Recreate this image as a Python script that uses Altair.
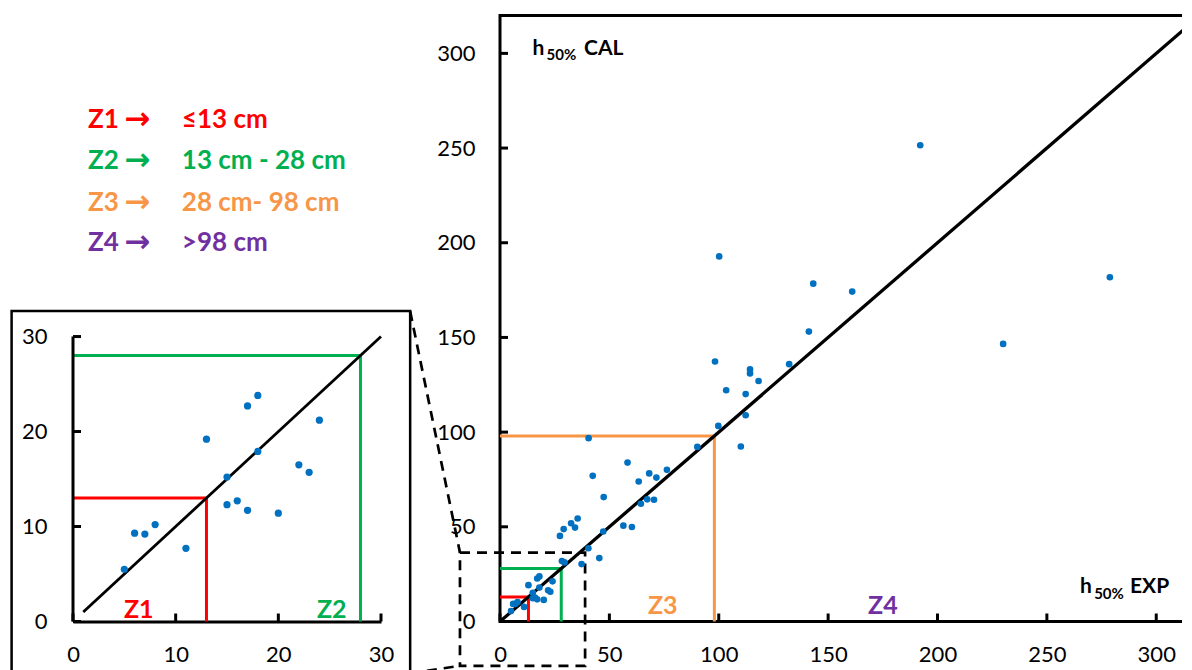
import altair as alt
import pandas as pd

# ---------------- data ----------------
h50_exp = [5, 6, 7, 8, 11, 13, 15, 15, 16, 17, 17, 18, 18, 20, 22, 23, 24,
           27.4, 28.3, 29.5, 29.1, 32.5, 34.3, 35.5, 37.3, 40.4, 45.4, 47.2,
           40.5, 42.4, 47.4, 56.4, 60.3, 58.3, 63.4, 64.4, 67.3, 70.4, 68.2, 71.5, 76.3,
           90.2, 99.8, 110.1, 112.3, 112.3, 103.4, 118.2, 114.3, 114.3, 132.2, 98.3,
           141.2, 161.0, 143.2, 100.2,
           192.1, 230.0, 278.8, 313.8]
h50_cal = [5.5, 9.3, 9.2, 10.2, 7.7, 19.2, 15.2, 12.3, 12.7, 11.7, 22.7, 23.8, 17.9, 11.4, 16.5, 15.7, 21.2,
           45.2, 31.9, 31.2, 48.8, 51.9, 49.6, 54.4, 30.3, 38.7, 33.5, 47.5,
           96.8, 76.9, 65.7, 50.6, 49.9, 83.9, 73.9, 62.2, 64.5, 64.3, 78.2, 76.0, 80.1,
           92.2, 103.3, 92.4, 120.1, 108.9, 122.1, 127.0, 133.1, 131.0, 135.9, 137.3,
           153.1, 174.2, 178.4, 192.8,
           251.5, 146.6, 181.8, 206.0]

zone_names = ["Z1", "Z2", "Z3", "Z4"]
zone_limits = [13, 28, 98]
zone_ranges = ["≤13 cm", "13 cm - 28 cm", "28 cm- 98 cm", ">98 cm"]

main_domain = [0, 320]
main_ticks = [0, 50, 100, 150, 200, 250, 300]
inset_x_domain = [0, 30]
inset_y_domain = [0, 63.8]      # plot runs up to the top of the main chart; the inset axes stop at 30
inset_ticks = [0, 10, 20, 30]
inset_diag = [1, 30]

# zoom box in main-chart units, connectors towards the inset frame
zoom_box_x = [-18.3, 38.9]
zoom_box_y = [-23.4, 36.4]
conn_x = [-41.1, -41.1]
conn_y = [163.9, -27.4]
conn_x2 = [-18.3, -18.3]
conn_y2 = [36.4, -23.4]
# frame around the inset, in inset units
inset_frame_x = [-5.98, 32.84]
inset_frame_y = [-5.6, 32.7]

# axis-name annotations (main chart units)
name_big_text = ["h", "CAL", "h", "EXP"]
name_big_x = [14.9, 38.4, 265.1, 288.0]
name_big_y = [299.4, 299.4, 14.8, 14.8]
name_sub_text = ["50%", "50%"]
name_sub_x = [21.3, 271.6]
name_sub_y = [296.6, 12.0]

main_zone_lbl = ["Z3", "Z4"]
main_zone_lbl_x = [74.4, 175.0]
main_zone_lbl_y = [8.0, 8.0]
inset_zone_lbl = ["Z1", "Z2"]
inset_zone_lbl_x = [6.4, 25.2]
inset_zone_lbl_y = [1.23, 1.23]

# zone legend text block (inset units)
legend_row_y = [52.0, 47.6, 43.2, 39.0]
legend_col_x = [1.46, 5.0, 10.6]   # zone name, arrow, range text

# ---------------- styles ----------------
FONT = "Lato"
LINE_COLORS = ["#FF0000", "#00B050", "#F79646", "#7030A0"]
LEGEND_COLORS = ["#FF0000", "#00B050", "#FF9A1F", "#7030A0"]
BLUE = "#0070C0"

pts = pd.DataFrame({"exp": h50_exp, "cal": h50_cal})

zl_rows = []
for name, b in zip(zone_names, zone_limits):
    zl_rows += [{"x": 0, "y": b, "zone": name, "o": 0},
                {"x": b, "y": b, "zone": name, "o": 1},
                {"x": b, "y": 0, "zone": name, "o": 2}]
zl_df = pd.DataFrame(zl_rows)

zone_color = alt.Color("zone:N", scale=alt.Scale(domain=zone_names, range=LINE_COLORS), legend=None)


def make_axis(values, pad, domain):
    kw = dict(values=values, grid=False, ticks=False, tickSize=0, labelFont=FONT,
              labelFontSize=22, labelColor="black", labelPadding=pad, domain=domain,
              labelFlush=False)
    if domain:
        kw.update(domainColor="black", domainWidth=3)
    return alt.Axis(**kw)


# ---------------- main chart ----------------
W, H = 700, 606
xs = alt.Scale(domain=main_domain, nice=False, zero=False)
ys = alt.Scale(domain=main_domain, nice=False, zero=False)
xax = make_axis(main_ticks, 23, False)
yax = make_axis(main_ticks, 25, False)


def MX(f):
    return alt.X(f, type="quantitative", scale=xs, axis=xax, title="")


def MY(f):
    return alt.Y(f, type="quantitative", scale=ys, axis=yax, title="")


m_zone = alt.Chart(zl_df).mark_line(strokeWidth=3).encode(
    x=MX("x"), y=MY("y"), color=zone_color, order=alt.Order("o:Q"))
m_diag = alt.Chart(pd.DataFrame({"x": main_domain, "y": main_domain})).mark_line(
    color="black", strokeWidth=3.3).encode(x=MX("x"), y=MY("y"))
m_pts = alt.Chart(pts).mark_circle(size=44, color=BLUE, opacity=1).encode(x=MX("exp"), y=MY("cal"))
m_box = alt.Chart(pd.DataFrame({"x": [zoom_box_x[0]], "x2": [zoom_box_x[1]],
                                "y": [zoom_box_y[0]], "y2": [zoom_box_y[1]]})).mark_rect(
    fillOpacity=0, stroke="black", strokeWidth=2.7, strokeDash=[10, 7]).encode(
    x=MX("x"), x2="x2", y=MY("y"), y2="y2")
m_conn = alt.Chart(pd.DataFrame({"x": conn_x, "y": conn_y, "x2": conn_x2, "y2": conn_y2})).mark_rule(
    color="black", strokeWidth=2.7, strokeDash=[10, 7]).encode(x=MX("x"), y=MY("y"), x2="x2", y2="y2")
m_ytk = alt.Chart(pd.DataFrame({"t": main_ticks})).mark_rule(color="black", strokeWidth=3).encode(
    y=MY("t"), x=alt.value(0), x2=alt.value(8))
m_xtk = alt.Chart(pd.DataFrame({"t": main_ticks})).mark_rule(color="black", strokeWidth=3).encode(
    x=MX("t"), y=alt.value(H), y2=alt.value(H - 8))
m_big = alt.Chart(pd.DataFrame({"t": name_big_text, "x": name_big_x, "y": name_big_y})).mark_text(
    font=FONT, fontWeight="bold", fontSize=21, align="left", baseline="alphabetic", color="black").encode(
    x=MX("x"), y=MY("y"), text="t:N")
m_sub = alt.Chart(pd.DataFrame({"t": name_sub_text, "x": name_sub_x, "y": name_sub_y})).mark_text(
    font=FONT, fontWeight="bold", fontSize=15, align="left", baseline="alphabetic", color="black").encode(
    x=MX("x"), y=MY("y"), text="t:N")
m_zlbl = alt.Chart(pd.DataFrame({"zone": main_zone_lbl, "x": main_zone_lbl_x, "y": main_zone_lbl_y})).mark_text(
    font=FONT, fontWeight="bold", fontSize=25, align="center", baseline="middle").encode(
    x=MX("x"), y=MY("y"), text="zone:N", color=zone_color)

main = alt.layer(m_zone, m_diag, m_box, m_conn, m_ytk, m_xtk, m_pts, m_big, m_sub, m_zlbl).properties(
    width=W, height=H, view=alt.ViewBackground(stroke="black", strokeWidth=3))

# ---------------- inset (with the zone legend above it) ----------------
IW = 308
ixs = alt.Scale(domain=inset_x_domain, nice=False, zero=False)
iys = alt.Scale(domain=inset_y_domain, nice=False, zero=False)
ixax = make_axis(inset_ticks, 23, True)
iyax = make_axis(inset_ticks, 26, False)


def IX(f):
    return alt.X(f, type="quantitative", scale=ixs, axis=ixax, title="")


def IY(f):
    return alt.Y(f, type="quantitative", scale=iys, axis=iyax, title="")


i_frame = alt.Chart(pd.DataFrame({"x": [inset_frame_x[0]], "x2": [inset_frame_x[1]],
                                  "y": [inset_frame_y[0]], "y2": [inset_frame_y[1]]})).mark_rect(
    fillOpacity=0, stroke="black", strokeWidth=2.5).encode(x=IX("x"), x2="x2", y=IY("y"), y2="y2")
i_yline = alt.Chart(pd.DataFrame({"y": [inset_ticks[0]], "y2": [inset_ticks[-1]]})).mark_rule(
    color="black", strokeWidth=3).encode(x=alt.value(0), y=IY("y"), y2="y2")
i_zone = alt.Chart(zl_df).transform_filter(alt.datum.x <= 30).transform_filter(alt.datum.y <= 30).mark_line(
    strokeWidth=3).encode(x=IX("x"), y=IY("y"), color=zone_color, order=alt.Order("o:Q"))
i_diag = alt.Chart(pd.DataFrame({"x": inset_diag, "y": inset_diag})).mark_line(
    color="black", strokeWidth=2.8).encode(x=IX("x"), y=IY("y"))
i_pts = alt.Chart(pts).transform_filter(alt.datum.exp <= 30).transform_filter(alt.datum.cal <= 30).mark_circle(
    size=52, color=BLUE, opacity=1).encode(x=IX("exp"), y=IY("cal"))
i_ytk = alt.Chart(pd.DataFrame({"t": inset_ticks})).mark_rule(color="black", strokeWidth=3).encode(
    y=IY("t"), x=alt.value(0), x2=alt.value(8))
i_xtk = alt.Chart(pd.DataFrame({"t": inset_ticks})).mark_rule(color="black", strokeWidth=3).encode(
    x=IX("t"), y=alt.value(H), y2=alt.value(H - 8))
i_zlbl = alt.Chart(pd.DataFrame({"zone": inset_zone_lbl, "x": inset_zone_lbl_x, "y": inset_zone_lbl_y})).mark_text(
    font=FONT, fontWeight="bold", fontSize=25, align="center", baseline="middle").encode(
    x=IX("x"), y=IY("y"), text="zone:N", color=zone_color)

leg_df = pd.DataFrame({"zone": zone_names, "rng": zone_ranges, "y": legend_row_y,
                       "x0": legend_col_x[0], "x1": legend_col_x[1], "x2": legend_col_x[2]})
leg_color = alt.Color("zone:N", scale=alt.Scale(domain=zone_names, range=LEGEND_COLORS), legend=None)
l_zone = alt.Chart(leg_df).mark_text(font=FONT, fontWeight="bold", fontSize=26, align="left",
                                     baseline="alphabetic").encode(
    x=IX("x0"), y=IY("y"), text="zone:N", color=leg_color)
l_arrow = alt.Chart(leg_df).mark_text(text="→", font="DejaVu Sans", fontWeight="bold", fontSize=31,
                                      align="left", baseline="alphabetic", dy=1).encode(
    x=IX("x1"), y=IY("y"), color=leg_color)
l_rng = alt.Chart(leg_df).mark_text(font=FONT, fontWeight="bold", fontSize=26, align="left",
                                    baseline="alphabetic").encode(
    x=IX("x2"), y=IY("y"), text="rng:N", color=leg_color)

inset = alt.layer(i_frame, i_zone, i_diag, i_yline, i_ytk, i_xtk, i_pts, i_zlbl,
                  l_zone, l_arrow, l_rng).properties(width=IW, height=H)

# negative right padding crops the main panel at the page edge, as in the reference
chart = alt.hconcat(inset, main, spacing=119, bounds="flush").resolve_scale(color="independent").properties(
    padding={"left": 2, "top": -1.5, "right": -27, "bottom": 5}
).configure_view(strokeWidth=0)

chart.save("out.html", embed_options={"renderer": "svg", "actions": False})
